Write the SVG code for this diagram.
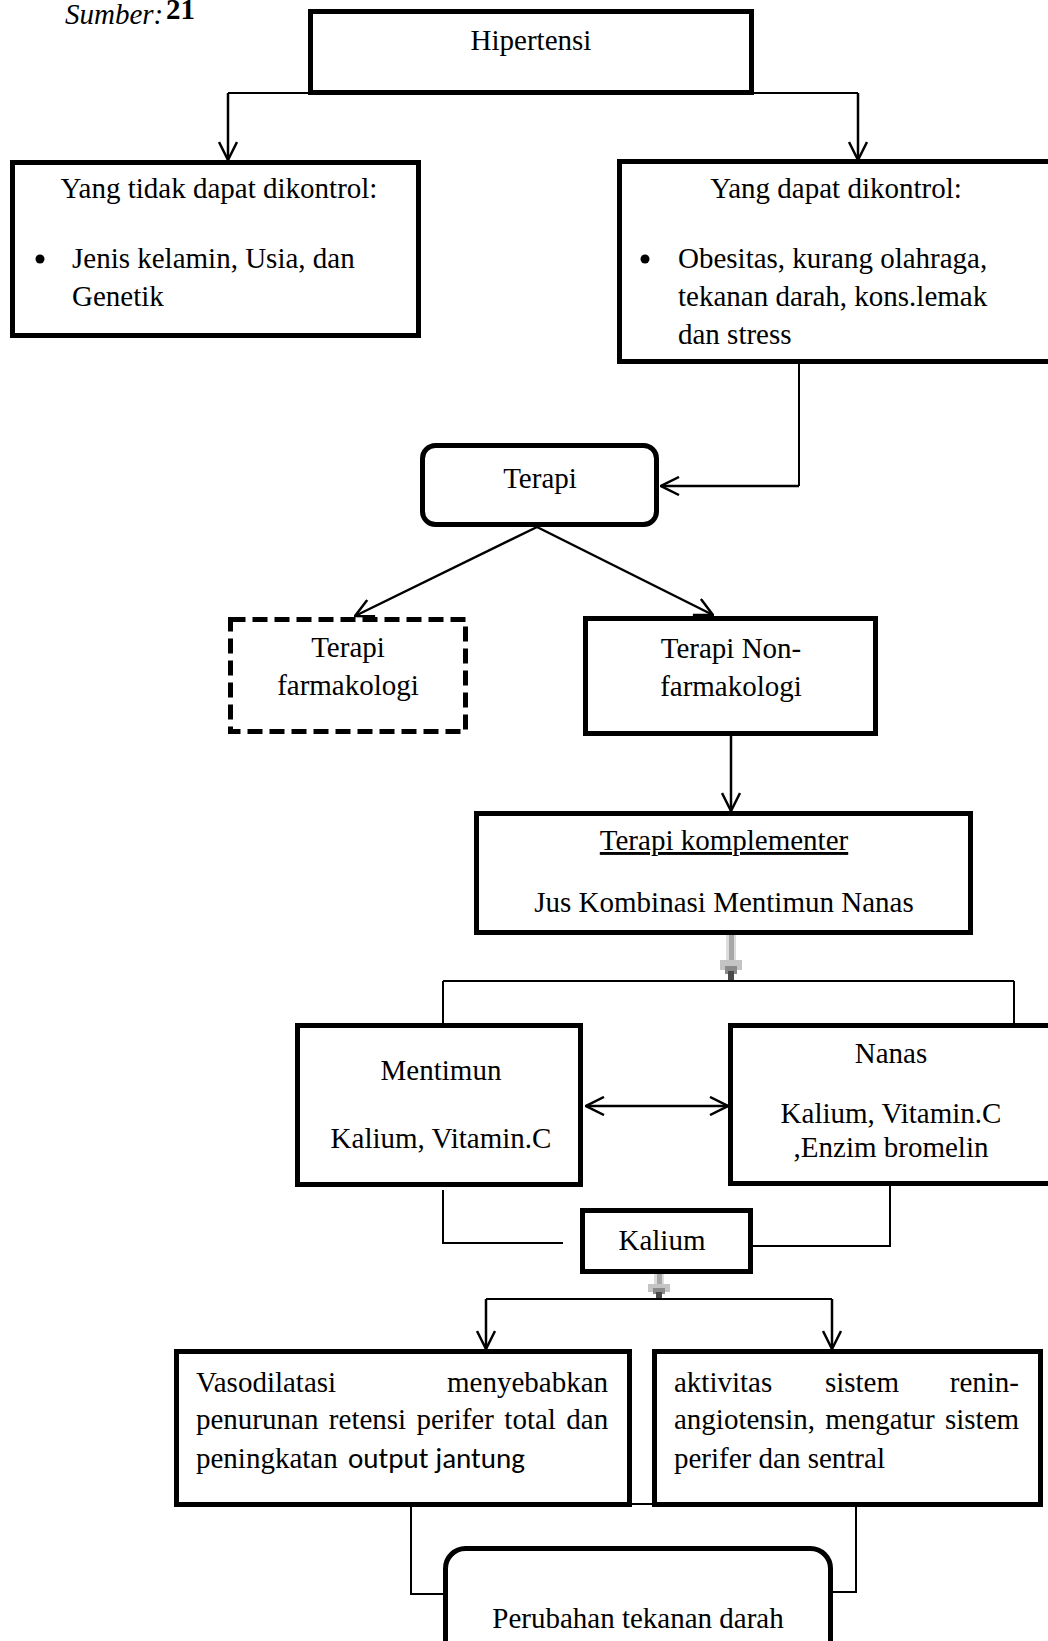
<svg xmlns="http://www.w3.org/2000/svg" width="1048" height="1641" viewBox="0 0 1048 1641">
<style>
  text { font-family: "Liberation Serif", "Times New Roman", serif; font-size: 29px; fill: #000; }
  .c { text-anchor: middle; }
  .box { fill: #fff; stroke: #000; stroke-width: 5; }
  .dash { fill: #fff; stroke: #000; stroke-width: 5; stroke-dasharray: 15 7; }
  .ln { fill: none; stroke: #000; stroke-width: 2; }
  .arr { fill: none; stroke: #000; stroke-width: 2.5; marker-end: url(#ah); }
</style>
<defs>
  <marker id="ah" viewBox="0 0 20 20" refX="19" refY="10" markerWidth="20" markerHeight="20" markerUnits="userSpaceOnUse" orient="auto-start-reverse">
    <path d="M1,1 L19,10 L1,19" fill="none" stroke="#000" stroke-width="2.5"/>
  </marker>
</defs>
<rect width="1048" height="1641" fill="#fff"/>

<g id="source">
  <text x="65" y="24" font-style="italic" font-size="25">Sumber:</text>
  <text x="166" y="19" font-size="16" font-weight="bold">21</text>
</g>

<g id="connectors">
  <path class="ln" d="M308,93 H228"/>
  <path class="arr" d="M228,93 V160"/>
  <path class="ln" d="M754,93 H858"/>
  <path class="arr" d="M858,93 V160"/>
  <path class="ln" d="M799,364 V486"/>
  <path class="arr" d="M799,486 H661"/>
  <path class="arr" d="M537,527 L355,616"/>
  <path class="arr" d="M537,527 L713,615"/>
  <path class="arr" d="M731,736 V811"/>
  <g id="grayarrow1">
    <rect x="726" y="935" width="10" height="26" fill="#dcdcdc"/>
    <rect x="729" y="935" width="5" height="26" fill="#a8a8a8"/>
    <rect x="720" y="960" width="22" height="10" fill="#c4c4c4"/>
    <rect x="725" y="966" width="12" height="8" fill="#8a8a8a"/>
    <rect x="728" y="971" width="6" height="9" fill="#4a4a4a"/>
  </g>
  <path class="ln" d="M443,981 H1014"/>
  <path class="ln" d="M443,981 V1026"/>
  <path class="ln" d="M1014,981 V1032"/>
  <path class="arr" d="M586,1106 H728" marker-start="url(#ah)"/>
  <path class="ln" d="M443,1190 V1243 H563"/>
  <path class="ln" d="M890,1186 V1246 H753"/>
  <g id="grayarrow2">
    <rect x="654" y="1274" width="10" height="14" fill="#dcdcdc"/>
    <rect x="657" y="1274" width="5" height="14" fill="#a8a8a8"/>
    <rect x="648" y="1284" width="22" height="8" fill="#c4c4c4"/>
    <rect x="653" y="1288" width="12" height="6" fill="#8a8a8a"/>
    <rect x="656" y="1292" width="6" height="7" fill="#4a4a4a"/>
  </g>
  <path class="ln" d="M486,1299 H832"/>
  <path class="arr" d="M486,1299 V1349"/>
  <path class="arr" d="M832,1299 V1349"/>
  <path class="ln" d="M631,1504 H652"/>
  <path class="ln" d="M411,1507 V1594 H443"/>
  <path class="ln" d="M856,1507 V1592 H833"/>
</g>

<g id="hipertensi">
  <rect class="box" x="310.5" y="11.5" width="441" height="81"/>
  <text class="c" x="531" y="50">Hipertensi</text>
</g>

<g id="tidak-dikontrol">
  <rect class="box" x="12.5" y="162.5" width="406" height="173"/>
  <text class="c" x="219" y="198">Yang tidak dapat dikontrol:</text>
  <circle cx="40" cy="259" r="4.5" fill="#000"/>
  <text x="72" y="268">Jenis kelamin, Usia, dan</text>
  <text x="72" y="306">Genetik</text>
</g>

<g id="dapat-dikontrol">
  <rect class="box" x="619.5" y="161.5" width="450" height="200"/>
  <text class="c" x="836" y="198">Yang dapat dikontrol:</text>
  <circle cx="645" cy="259" r="4.5" fill="#000"/>
  <text x="678" y="268">Obesitas, kurang olahraga,</text>
  <text x="678" y="306">tekanan darah, kons.lemak</text>
  <text x="678" y="344">dan stress</text>
</g>

<g id="terapi">
  <rect class="box" x="422.5" y="445.5" width="234" height="79" rx="13"/>
  <text class="c" x="540" y="488">Terapi</text>
</g>

<g id="farmakologi">
  <rect class="dash" x="230.5" y="619.5" width="235" height="112"/>
  <text class="c" x="348" y="657">Terapi</text>
  <text class="c" x="348" y="695">farmakologi</text>
</g>

<g id="non-farmakologi">
  <rect class="box" x="585.5" y="618.5" width="290" height="115"/>
  <text class="c" x="731" y="658">Terapi Non-</text>
  <text class="c" x="731" y="696">farmakologi</text>
</g>

<g id="komplementer">
  <rect class="box" x="476.5" y="813.5" width="494" height="119"/>
  <text class="c" x="724" y="850" text-decoration="underline">Terapi komplementer</text>
  <text class="c" x="724" y="912">Jus Kombinasi Mentimun Nanas</text>
</g>

<g id="mentimun">
  <rect class="box" x="297.5" y="1025.5" width="283" height="159"/>
  <text class="c" x="441" y="1080">Mentimun</text>
  <text class="c" x="441" y="1148">Kalium, Vitamin.C</text>
</g>

<g id="nanas">
  <rect class="box" x="730.5" y="1025.5" width="340" height="158"/>
  <text class="c" x="891" y="1063">Nanas</text>
  <text class="c" x="891" y="1123">Kalium, Vitamin.C</text>
  <text class="c" x="891" y="1157">,Enzim bromelin</text>
</g>

<g id="kalium">
  <rect class="box" x="582.5" y="1210.5" width="168" height="61"/>
  <text class="c" x="662" y="1250">Kalium</text>
</g>

<g id="vasodilatasi">
  <rect class="box" x="176.5" y="1351.5" width="453" height="153"/>
  <text x="196" y="1392">Vasodilatasi</text>
  <text x="608" y="1392" text-anchor="end">menyebabkan</text>
  <text x="196" y="1429" word-spacing="3.2">penurunan retensi perifer total dan</text>
  <text x="196" y="1468">peningkatan</text>
  <text x="348" y="1468" style="font-family: Carlito, Calibri, 'Open Sans', sans-serif; font-size: 28px;" textLength="177" lengthAdjust="spacingAndGlyphs">output jantung</text>
</g>

<g id="renin">
  <rect class="box" x="654.5" y="1351.5" width="386" height="153"/>
  <text x="674" y="1392">aktivitas</text>
  <text x="862" y="1392" text-anchor="middle">sistem</text>
  <text x="1019" y="1392" text-anchor="end">renin-</text>
  <text x="674" y="1429" word-spacing="3">angiotensin, mengatur sistem</text>
  <text x="674" y="1468">perifer dan sentral</text>
</g>

<g id="perubahan">
  <rect class="box" x="445.5" y="1548.5" width="385" height="120" rx="20"/>
  <text class="c" x="638" y="1628">Perubahan tekanan darah</text>
</g>
</svg>
